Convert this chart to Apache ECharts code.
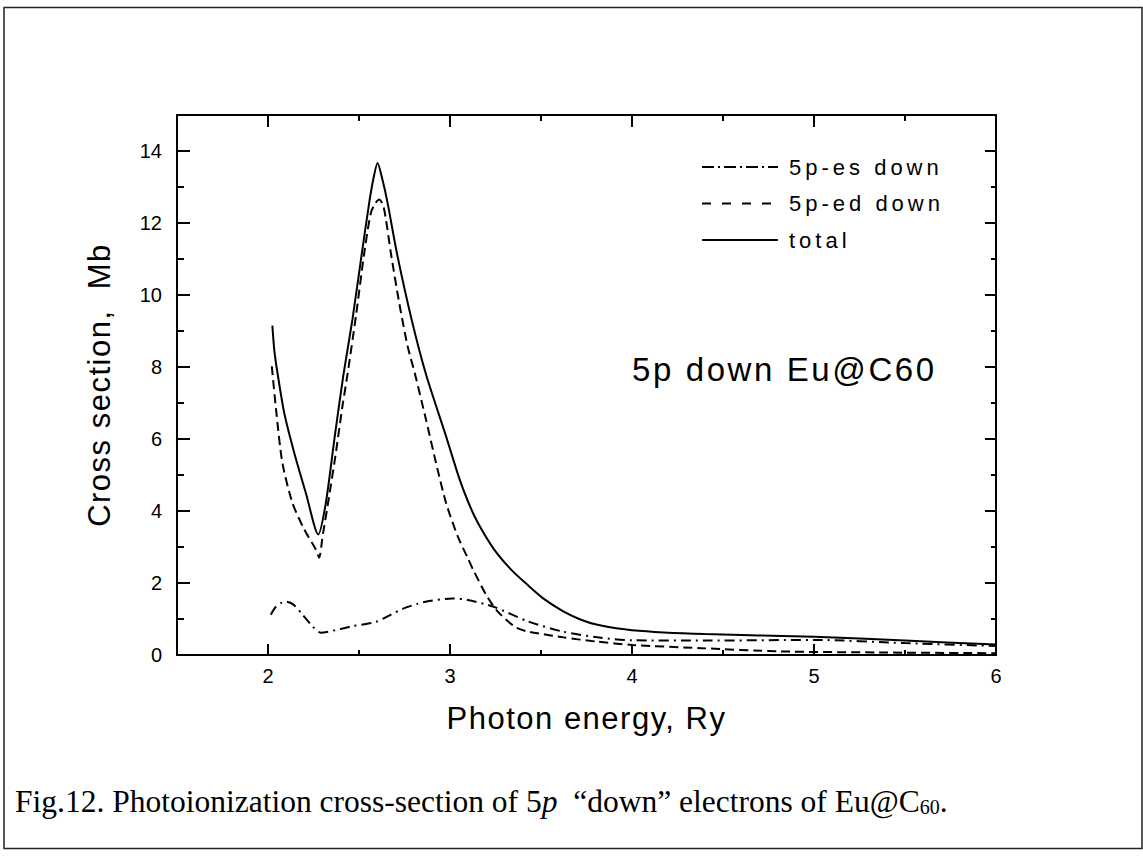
<!DOCTYPE html>
<html>
<head>
<meta charset="utf-8">
<script src="https://cdn.jsdelivr.net/npm/echarts@6/dist/echarts.min.js"></script>
<style>
  html, body { margin: 0; padding: 0; background: #fff; }
  #chart { width: 1143px; height: 857px; }
  #chart text { white-space: pre; }
  /* tracked lettering for the legend entries, the axis names and the in-plot label */
  #chart text[style*="22px"] { letter-spacing: 4px; }
  #chart text[style*="31px"] { letter-spacing: 1.5px; }
  #chart text[style*="33px"] { letter-spacing: 2.6px; }
</style>
</head>
<body>
<div id="chart"></div>
<script>
// Photon energy (Ry) and cross section (Mb) for each channel
const esEnergy = [2.015, 2.04, 2.07, 2.101, 2.14, 2.19, 2.244, 2.29, 2.37, 2.464, 2.593, 2.66, 2.739, 2.82, 2.886, 3.014, 3.097, 3.24, 3.43, 3.62, 3.81, 4.0, 4.4, 5.0, 5.5, 6.0];
const esValue  = [1.12, 1.32, 1.44, 1.48, 1.40, 1.12, 0.80, 0.62, 0.69, 0.80, 0.92, 1.08, 1.28, 1.42, 1.50, 1.57, 1.53, 1.34, 0.93, 0.65, 0.49, 0.41, 0.40, 0.42, 0.33, 0.25];

const edEnergy = [2.021, 2.046, 2.079, 2.134, 2.199, 2.263, 2.281, 2.30, 2.336, 2.373, 2.409, 2.437, 2.483, 2.529, 2.565, 2.59, 2.611, 2.632, 2.648, 2.675, 2.721, 2.767, 2.808, 2.868, 2.923, 2.978, 3.042, 3.097, 3.126, 3.20, 3.26, 3.354, 3.42, 3.487, 3.62, 3.81, 4.0, 4.38, 4.81, 5.36, 6.0];
const edValue  = [8.02, 6.73, 5.34, 4.23, 3.49, 2.93, 2.70, 3.30, 4.41, 5.62, 6.91, 7.80, 9.41, 11.17, 12.28, 12.55, 12.65, 12.50, 12.10, 11.17, 9.78, 8.58, 7.80, 6.54, 5.34, 4.23, 3.30, 2.70, 2.38, 1.66, 1.22, 0.79, 0.66, 0.60, 0.49, 0.37, 0.28, 0.19, 0.10, 0.07, 0.05];

const totalEnergy = [2.024, 2.035, 2.052, 2.089, 2.144, 2.208, 2.276, 2.318, 2.367, 2.415, 2.464, 2.516, 2.556, 2.578, 2.602, 2.629, 2.657, 2.708, 2.789, 2.868, 2.978, 3.05, 3.10, 3.15, 3.24, 3.34, 3.43, 3.51, 3.62, 3.72, 3.81, 4.0, 4.4, 5.0, 5.5, 6.0];
const totalValue  = [9.15, 8.45, 7.84, 6.73, 5.62, 4.50, 3.35, 4.23, 6.08, 7.80, 9.32, 11.17, 12.56, 13.20, 13.67, 13.20, 12.56, 11.17, 9.32, 7.80, 6.08, 4.92, 4.25, 3.70, 2.95, 2.35, 1.93, 1.58, 1.22, 0.98, 0.84, 0.69, 0.58, 0.51, 0.40, 0.29];

// Axis ticks
const xMajorTicks = [2, 3, 4, 5, 6];
const xMinorTicks = [2.5, 3.5, 4.5, 5.5];
const yMajorTicks = [0, 2, 4, 6, 8, 10, 12, 14];
const yMinorTicks = [1, 3, 5, 7, 9, 11, 13];

const seriesNames = ['5p-es down', '5p-ed down', 'total'];

const zip = (xs, ys) => xs.map((x, i) => [x, ys[i]]);

const SANS = 'Liberation Sans';
const SERIF = 'Liberation Serif';
const INK = '#000';

const plotRect = { left: 177, top: 115, width: 819, height: 540 };

function xAxisDef(gridIndex, position, ticks, tickLen, withLine, withLabels) {
  const ax = {
    type: 'value', gridIndex, position, min: 1.5, max: 6,
    axisLine: { show: withLine, onZero: false, lineStyle: { color: INK, width: 2 } },
    axisTick: { show: true, inside: true, length: tickLen, customValues: ticks,
                lineStyle: { color: INK, width: 2 } },
    axisLabel: { show: withLabels },
    splitLine: { show: false }
  };
  if (withLabels) {
    ax.axisLabel = { show: true, customValues: ticks, margin: 11, color: INK,
                     fontSize: 20, fontFamily: SANS };
    ax.name = 'Photon energy, Ry';
    ax.nameLocation = 'middle';
    ax.nameGap = 48;
    ax.nameTextStyle = { color: INK, fontSize: 31, fontFamily: SANS };
  }
  return ax;
}

function yAxisDef(gridIndex, position, ticks, tickLen, withLine, withLabels) {
  const ax = {
    type: 'value', gridIndex, position, min: 0, max: 15,
    axisLine: { show: withLine, onZero: false, lineStyle: { color: INK, width: 2 } },
    axisTick: { show: true, inside: true, length: tickLen, customValues: ticks,
                lineStyle: { color: INK, width: 2 } },
    axisLabel: { show: withLabels },
    splitLine: { show: false }
  };
  if (withLabels) {
    ax.axisLabel = { show: true, customValues: ticks, margin: 15, color: INK,
                     fontSize: 20, fontFamily: SANS };
    ax.name = 'Cross section,  Mb';
    ax.nameLocation = 'middle';
    ax.nameGap = 62;
    ax.nameTextStyle = { color: INK, fontSize: 31, fontFamily: SANS };
  }
  return ax;
}

const lineSeries = (name, xs, ys, dash) => ({
  type: 'line', name, xAxisIndex: 0, yAxisIndex: 0,
  data: zip(xs, ys),
  symbol: 'none', showSymbol: false, smooth: 0.25,
  lineStyle: { color: INK, width: 2, type: dash },
  itemStyle: { color: INK },
  silent: true, animation: false
});

const chart = echarts.init(document.getElementById('chart'), null, { renderer: 'svg' });

chart.setOption({
  backgroundColor: '#fff',
  animation: false,
  grid: [
    Object.assign({}, plotRect),
    Object.assign({}, plotRect)
  ],
  xAxis: [
    xAxisDef(0, 'bottom', xMajorTicks, 11, true, true),
    xAxisDef(0, 'top', xMajorTicks, 12, true, false),
    xAxisDef(1, 'bottom', xMinorTicks, 5, false, false),
    xAxisDef(1, 'top', xMinorTicks, 6, false, false)
  ],
  yAxis: [
    yAxisDef(0, 'left', yMajorTicks, 13, true, true),
    yAxisDef(0, 'right', yMajorTicks, 11, true, false),
    yAxisDef(1, 'left', yMinorTicks, 7, false, false),
    yAxisDef(1, 'right', yMinorTicks, 5, false, false)
  ],
  legend: {
    orient: 'vertical', left: 701, top: 156, padding: 0,
    itemWidth: 76, itemHeight: 14, itemGap: 14.5,
    selectedMode: false,
    // line samples only, no marker in the middle
    itemStyle: { opacity: 0, color: 'rgba(0,0,0,0)', borderWidth: 0 },
    textStyle: { color: INK, fontSize: 22, fontFamily: SANS, lineHeight: 22, padding: [0, 0, 0, 6] },
    data: [
      { name: seriesNames[0], lineStyle: { type: [12, 4, 2, 4] } },
      { name: seriesNames[1], lineStyle: { type: [9, 11] } },
      { name: seriesNames[2] }
    ]
  },
  series: [
    lineSeries(seriesNames[0], esEnergy, esValue, [10, 5, 2, 5]),
    lineSeries(seriesNames[1], edEnergy, edValue, [9, 5]),
    lineSeries(seriesNames[2], totalEnergy, totalValue, 'solid')
  ],
  graphic: [
    {
      type: 'rect', silent: true,
      shape: { x: 4, y: 7.5, width: 1138, height: 841 },
      style: { fill: 'none', stroke: '#222', lineWidth: 1.5 }
    },
    {
      type: 'text', silent: true, x: 632, y: 369,
      style: { text: '5p down Eu@C60', fill: INK, fontSize: 33, fontFamily: SANS,
               align: 'left', verticalAlign: 'middle' }
    },
    {
      type: 'text', silent: true, x: 15, y: 801,
      style: {
        text: 'Fig.12. Photoionization cross-section of 5{it|p}  \u201cdown\u201d electrons of Eu@C{sub|60}.',
        fill: INK, fontSize: 31.5, fontFamily: SERIF, align: 'left', verticalAlign: 'middle',
        rich: {
          it: { fontSize: 31.5, fontFamily: SERIF, fontStyle: 'italic', fill: INK },
          sub: { fontSize: 20, fontFamily: SERIF, fill: INK, lineHeight: 17, verticalAlign: 'bottom' }
        }
      }
    }
  ]
});
</script>
</body>
</html>
